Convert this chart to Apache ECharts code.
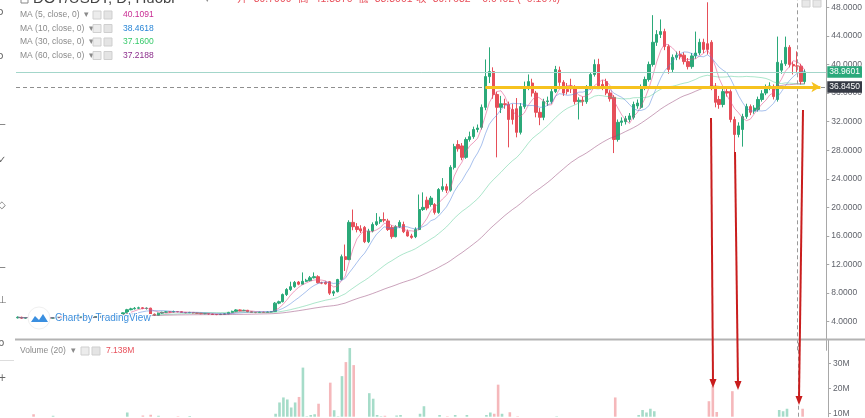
<!DOCTYPE html>
<html><head><meta charset="utf-8">
<script src="https://cdn.jsdelivr.net/npm/echarts@6/dist/echarts.min.js"></script>
<style>html,body{margin:0;padding:0;background:#fff}#c{width:865px;height:418px}</style>
</head><body><div id="c"></div>
<script>
// ---- data ----
const opens = [4.55,4.62,4.50,4.58,4.70,4.63,4.55,4.60,4.52,4.48,4.57,4.65,4.60,4.54,4.46,4.52,4.61,4.70,4.66,4.58,4.64,4.72,4.80,4.74,4.82,4.78,4.88,5.00,5.24,5.68,
5.80,5.88,5.95,5.85,5.90,5.05,4.92,5.20,5.32,5.38,5.35,5.42,5.40,5.30,5.26,5.30,5.22,5.18,5.12,5.15,5.08,5.02,5.00,5.05,5.10,5.30,5.45,5.65,5.55,5.60,
5.40,5.30,5.28,5.34,5.30,5.36,5.42,6.60,6.80,7.80,8.50,8.90,9.55,9.25,9.65,9.75,10.15,10.30,9.45,9.50,9.60,8.00,8.20,9.90,13.10,12.70,17.90,17.30,17.00,17.20,
15.20,16.70,17.60,18.00,18.30,18.10,17.20,15.90,17.30,17.60,16.60,16.00,15.90,16.90,19.70,21.00,20.40,20.40,19.30,22.50,22.90,22.40,25.60,28.80,28.60,27.00,29.50,29.90,30.90,31.20,
34.00,38.30,39.00,35.80,34.00,34.50,34.40,33.70,33.80,30.50,34.10,37.00,37.40,36.00,33.30,32.60,34.80,34.80,36.20,39.20,37.50,36.50,37.00,36.80,34.80,35.00,34.80,36.80,38.60,40.00,
37.20,37.60,36.00,35.40,29.50,31.90,32.00,32.30,32.60,34.20,34.00,36.80,37.90,40.00,43.10,44.20,44.60,42.50,39.30,41.00,41.40,41.30,40.40,39.70,41.20,41.60,43.10,42.90,43.10,36.90,
35.10,34.40,36.20,36.20,32.30,30.20,30.90,32.70,34.10,33.50,33.70,35.10,36.00,36.80,36.90,35.10,39.20,40.10,42.40,40.00,39.7999,39.76,37.60];
const closes = [4.62,4.50,4.58,4.70,4.63,4.55,4.60,4.52,4.48,4.57,4.65,4.60,4.54,4.46,4.52,4.61,4.70,4.66,4.58,4.64,4.72,4.80,4.74,4.82,4.78,4.88,5.00,5.24,5.68,5.80,
5.88,5.95,5.85,5.90,5.05,4.92,5.20,5.32,5.38,5.35,5.42,5.40,5.30,5.26,5.30,5.22,5.18,5.12,5.15,5.08,5.02,5.00,5.05,5.10,5.30,5.45,5.65,5.55,5.60,5.40,
5.30,5.28,5.34,5.30,5.36,5.42,6.60,6.80,7.80,8.50,8.90,9.50,9.25,9.65,9.80,10.15,10.30,9.45,9.40,9.30,8.00,8.20,9.90,13.10,12.70,17.90,17.30,16.90,16.70,15.20,
16.70,17.60,18.00,18.30,18.20,16.90,15.90,17.30,17.90,16.60,16.00,15.80,16.90,19.70,20.00,19.90,21.30,19.30,22.50,22.90,22.40,25.60,28.50,28.20,27.00,29.50,29.90,30.90,31.10,34.00,
38.30,39.00,35.80,34.00,34.50,34.40,32.30,32.30,30.50,34.10,36.90,37.60,36.00,33.30,32.60,34.80,34.90,36.20,39.30,37.50,36.00,36.20,36.60,34.80,35.00,34.80,36.80,38.60,40.00,37.00,
36.90,36.00,35.20,29.50,31.90,32.10,32.40,32.80,34.40,34.60,36.80,37.90,40.00,43.10,44.20,44.60,42.50,39.30,41.00,41.30,41.10,40.40,39.70,41.20,41.60,43.10,42.10,42.10,36.90,34.70,
34.40,36.20,36.00,32.30,30.20,31.40,32.70,34.10,33.30,33.90,35.10,35.90,36.80,37.00,35.50,40.30,40.10,42.40,40.00,39.80,39.7632,37.60,38.9601];
const lows = [4.45,4.40,4.42,4.50,4.55,4.48,4.47,4.45,4.38,4.42,4.50,4.54,4.47,4.38,4.40,4.47,4.55,4.58,4.52,4.52,4.58,4.66,4.68,4.70,4.70,4.72,4.82,4.95,5.18,5.60,
5.72,5.78,5.75,5.70,4.98,4.80,4.88,5.12,5.25,5.28,5.30,5.32,5.22,5.18,5.20,5.14,5.10,5.05,5.05,5.00,4.95,4.92,4.95,5.00,5.05,5.25,5.40,5.45,5.48,5.32,
5.22,5.20,5.22,5.24,5.26,5.30,5.38,6.45,6.70,7.60,8.30,8.75,9.10,9.20,9.55,9.65,10.05,9.35,9.25,9.20,7.75,7.60,8.10,9.80,11.10,12.60,16.80,16.50,16.40,15.00,
15.00,16.50,17.40,17.70,17.90,16.70,15.60,15.80,17.10,16.40,15.90,15.60,15.70,16.80,19.50,19.60,20.10,19.00,19.10,22.20,22.00,22.20,25.30,27.80,26.60,26.80,29.20,29.60,30.50,30.90,
33.60,37.40,35.20,27.00,33.20,33.80,28.40,31.60,29.80,30.20,33.80,36.40,35.50,32.60,31.50,32.20,34.20,34.50,36.00,37.00,35.60,35.80,36.00,34.40,32.30,34.20,34.50,36.50,38.30,36.80,
36.40,35.70,34.80,27.60,29.20,31.40,31.60,31.90,32.30,33.80,33.80,36.40,37.60,39.70,42.60,43.70,42.00,38.70,38.90,40.60,40.70,40.00,39.30,39.40,40.80,41.30,41.60,41.40,36.40,34.00,
33.80,34.00,35.50,31.90,27.10,29.80,28.50,32.40,32.90,33.10,33.40,34.80,35.70,36.40,35.10,34.80,38.70,39.80,39.60,38.60,38.8001,37.20,37.30];
const highs = [4.75,4.70,4.66,4.80,4.78,4.70,4.68,4.66,4.60,4.64,4.72,4.74,4.66,4.60,4.58,4.68,4.78,4.80,4.72,4.70,4.80,4.88,4.90,4.92,4.88,4.95,5.08,5.30,5.80,5.95,
6.05,6.10,6.05,6.00,5.95,5.15,5.28,5.40,5.48,5.46,5.55,5.50,5.46,5.36,5.38,5.36,5.28,5.24,5.22,5.20,5.12,5.08,5.12,5.18,5.38,5.55,5.75,5.72,5.68,5.65,
5.45,5.36,5.40,5.40,5.44,5.50,6.75,6.95,7.95,8.70,9.60,9.70,9.70,10.90,10.00,10.40,10.90,10.50,9.60,9.65,9.70,8.40,10.00,13.40,14.80,18.20,19.70,17.80,17.50,17.40,
17.00,17.90,19.20,18.70,19.30,18.40,17.50,17.50,18.20,18.00,16.90,16.30,17.20,21.80,22.10,21.50,21.60,20.60,22.70,24.10,23.30,25.90,28.90,29.40,29.00,29.80,30.60,31.30,31.60,34.40,
40.70,42.40,39.60,36.20,35.60,35.20,34.80,34.50,35.30,34.60,37.60,38.60,38.00,36.30,33.90,35.20,35.50,36.60,39.80,39.70,37.80,37.40,38.00,37.10,35.40,35.50,37.10,38.90,40.70,40.80,
37.80,38.00,36.40,35.70,32.30,32.60,32.80,33.20,34.80,35.10,37.20,38.30,40.40,46.90,44.80,46.30,45.00,42.80,41.40,41.80,41.90,41.70,40.90,41.60,44.60,43.60,43.60,48.70,43.40,37.40,
35.60,36.60,36.70,36.50,32.70,31.90,33.10,34.50,34.40,34.30,35.50,36.40,37.20,37.50,37.20,43.90,40.60,43.90,42.70,40.40,41.837,40.10,39.30];
const volumes = [4.2,3.8,3.5,5.1,9.8,4.0,3.6,3.2,4.4,9.2,3.8,3.1,2.9,3.4,3.0,3.3,4.1,3.6,3.2,3.0,3.7,4.3,3.5,3.9,3.4,4.6,5.8,7.5,10.5,6.2,
5.1,6.0,9.3,5.2,9.6,7.0,9.2,5.4,4.8,4.5,5.0,9.0,5.3,4.6,9.1,4.2,3.9,3.6,3.8,3.5,4.0,3.7,3.6,4.1,7.0,6.2,8.0,6.5,4.8,6.0,
5.2,4.1,3.9,3.6,4.0,4.8,10.0,14.5,16.5,15.7,12.5,14.5,16.7,28.4,9.0,9.5,9.8,14.0,7.0,6.5,22.4,11.4,9.0,25.0,30.6,36.2,29.4,8.8,8.0,8.5,
18.2,16.0,9.5,9.0,9.2,7.5,8.2,9.3,9.5,7.2,6.4,5.6,7.3,10.0,13.0,8.1,7.2,7.0,9.5,8.0,9.0,8.2,9.5,7.0,8.0,9.5,6.5,6.2,6.0,8.0,
9.5,10.5,10.0,21.6,10.0,7.0,10.6,8.0,9.0,8.0,7.0,6.5,6.2,7.6,6.8,6.0,5.5,6.2,9.0,7.0,6.0,5.2,5.0,6.5,6.0,4.8,5.0,5.6,6.5,7.5,
5.2,5.8,6.4,16.5,8.0,6.0,5.3,5.5,7.8,9.5,11.5,10.5,12.0,11.0,8.0,7.6,7.0,8.4,6.2,5.0,4.6,5.2,5.4,5.8,7.0,6.5,8.0,15.0,21.0,10.7,
8.0,7.2,6.0,19.0,8.5,7.5,8.0,6.5,5.5,5.0,6.0,5.5,5.8,5.2,6.4,11.5,11.0,12.0,8.0,7.0,7.138,12.0,6.0];
const priceTicks = [4,8,12,16,20,24,28,32,36,40,44,48];
const volumeTicks = [10,20,30];
const maPeriods = [5,10,30,60];
const maLegendValues = ['40.1091','38.4618','37.1600','37.2188'];
const lastPrice = 38.9601;
const crossPrice = 36.8450;
const crossIndex = 200;
const trendStartIndex = 120, trendEndIndex = 206;
const emptySlots = 5;

// categories: daily dates
const categories = [];
const t0 = Date.UTC(2020, 9, 13);
for (let i = 0; i < opens.length + emptySlots; i++) {
  categories.push(new Date(t0 + i * 864e5).toISOString().slice(0, 10));
}

const UP = '#2ba979', DOWN = '#e64f59';
const VUP = '#a6dcc9', VDOWN = '#f5b8bb';
const maLine = ['rgba(226,80,140,0.55)','rgba(80,130,220,0.5)','rgba(70,200,140,0.45)','rgba(150,70,120,0.5)'];
const maText = ['#c92c93','#2a86d6','#36c96a','#8c2e8c'];
const FONT = 'Liberation Sans, Noto Sans CJK SC, sans-serif';

function ma(p) {
  return closes.map((_, i) => {
    const s = Math.max(0, i - p + 1);
    let sum = 0;
    for (let j = s; j <= i; j++) sum += closes[j];
    return +(sum / (i - s + 1)).toFixed(4);
  });
}

const candleData = opens.map((o, i) => [o, closes[i], lows[i], highs[i]]);
const volData = volumes.map((v, i) => ({ value: v, itemStyle: { color: closes[i] >= opens[i] ? VUP : VDOWN } }));

const chart = echarts.init(document.getElementById('c'), null, { renderer: 'canvas' });

const graphics = [];
// pane separator
graphics.push({ type: 'line', z: 50, shape: { x1: 15, y1: 339.5, x2: 865, y2: 339.5 }, style: { stroke: '#b3b3b3', lineWidth: 2 } });
// header (cut at top)
graphics.push({ type: 'rect', z: 60, shape: { x: 21, y: -5, width: 7, height: 8 }, style: { fill: 'none', stroke: '#888', lineWidth: 1 } });
graphics.push({ type: 'text', z: 60, x: 33, y: -1.5, style: { text: 'DOT/USDT, D, Huobi', font: '15px ' + FONT, fill: '#444', verticalAlign: 'middle' } });
graphics.push({ type: 'text', z: 60, x: 205, y: 0, style: { text: '▾', font: '9px ' + FONT, fill: '#888', verticalAlign: 'middle' } });
[['开=39.7999', 237], ['高=41.8370', 298], ['低=38.8001', 358], ['收=39.7632', 416], ['−0.0402 (−0.10%)', 476]].forEach(([t, x]) => {
  graphics.push({ type: 'text', z: 60, x, y: -1, style: { text: t, font: '10.5px ' + FONT, fill: '#e8505b', verticalAlign: 'middle' } });
});
// MA legends
maPeriods.forEach((p, k) => {
  const y = 15 + k * 13.5;
  graphics.push({ type: 'text', z: 60, x: 20, y, style: { text: 'MA (' + p + ', close, 0)  ▾', font: '8.5px ' + FONT, fill: '#8a8a8a', verticalAlign: 'middle' } });
  graphics.push({ type: 'rect', z: 60, shape: { x: 93, y: y - 4, width: 8, height: 8 }, style: { fill: '#ececec', stroke: '#d0d0d0', lineWidth: 1 } });
  graphics.push({ type: 'rect', z: 60, shape: { x: 104, y: y - 4, width: 8, height: 8 }, style: { fill: '#e4e4e4', stroke: '#cfcfcf', lineWidth: 1 } });
  graphics.push({ type: 'text', z: 60, x: 123, y, style: { text: maLegendValues[k], font: '8.5px ' + FONT, fill: maText[k], verticalAlign: 'middle' } });
});
// volume legend
graphics.push({ type: 'text', z: 60, x: 20, y: 351, style: { text: 'Volume (20)  ▾', font: '8.5px ' + FONT, fill: '#8a8a8a', verticalAlign: 'middle' } });
graphics.push({ type: 'rect', z: 60, shape: { x: 81, y: 347, width: 8, height: 8 }, style: { fill: '#ececec', stroke: '#d0d0d0', lineWidth: 1 } });
graphics.push({ type: 'rect', z: 60, shape: { x: 92, y: 347, width: 8, height: 8 }, style: { fill: '#e4e4e4', stroke: '#cfcfcf', lineWidth: 1 } });
graphics.push({ type: 'text', z: 60, x: 106, y: 351, style: { text: '7.138M', font: '8.5px ' + FONT, fill: '#e8505b', verticalAlign: 'middle' } });
// pane icons top right
graphics.push({ type: 'rect', z: 60, shape: { x: 802, y: 0, width: 8, height: 7 }, style: { fill: '#e8e8e8', stroke: '#d0d0d0', lineWidth: 1 } });
graphics.push({ type: 'rect', z: 60, shape: { x: 813, y: 0, width: 8, height: 7 }, style: { fill: '#e8e8e8', stroke: '#d0d0d0', lineWidth: 1 } });
// watermark
graphics.push({ type: 'circle', z: 70, shape: { cx: 39, cy: 318, r: 11 }, style: { fill: '#fff', stroke: '#f0f0f0' } });
graphics.push({ type: 'polygon', z: 71, shape: { points: [[31, 322], [35, 316], [39, 320], [43, 314], [48, 322]] }, style: { fill: '#3a8fe0' } });
graphics.push({ type: 'text', z: 70, x: 55, y: 318, style: { text: 'Chart by TradingView', font: '10px ' + FONT, fill: '#3d8fdc', verticalAlign: 'middle', stroke: '#fff', lineWidth: 2 } });
// left toolbar glyphs (cut at edge)
[['ɔ', 12], ['ɔ', 56], ['⌐', 125], ['✓', 160], ['◇', 205], ['⌐', 268], ['⊥', 300], ['ɒ', 343], ['+', 378]].forEach(([t, y]) => {
  graphics.push({ type: 'text', z: 60, x: -2, y, style: { text: t, font: '10px DejaVu Sans', fill: '#666', verticalAlign: 'middle' } });
});
graphics.push({ type: 'line', z: 60, shape: { x1: 0, y1: 360.5, x2: 14, y2: 360.5 }, style: { stroke: '#ddd', lineWidth: 1 } });
// hand-drawn red arrows
[[711, 118, 713, 388], [735, 152, 738, 390], [803, 110, 799, 405]].forEach(([x1, y1, x2, y2]) => {
  graphics.push({ type: 'line', z: 80, shape: { x1, y1, x2, y2: y2 - 6 }, style: { stroke: '#c91d1d', lineWidth: 2 } });
  graphics.push({ type: 'polygon', z: 80, shape: { points: [[x2 - 3.5, y2 - 9], [x2 + 3.5, y2 - 9], [x2, y2]] }, style: { fill: '#c91d1d' } });
});

const labelBox = (bg) => ({ show: true, position: 'end', distance: 1, color: '#fff', backgroundColor: bg, padding: [2, 2, 1, 2], fontSize: 8.5, fontFamily: FONT });

const option = {
  animation: false,
  backgroundColor: '#fff',
  grid: [
    { left: 16, top: 0, width: 812, height: 350.3 },
    { left: 16, top: 340, width: 812, height: 78 }
  ],
  xAxis: [
    { type: 'category', gridIndex: 0, data: categories, boundaryGap: true, show: false },
    { type: 'category', gridIndex: 1, data: categories, boundaryGap: true, show: false }
  ],
  yAxis: [
    { type: 'value', gridIndex: 0, position: 'right', min: 0, max: 49.02, interval: 4,
      axisLine: { show: true, lineStyle: { color: '#a8a8a8' } },
      axisTick: { show: true, length: 3, lineStyle: { color: '#a8a8a8' }, customValues: priceTicks },
      axisLabel: { margin: 5, fontSize: 8.5, color: '#60636b', fontFamily: FONT, customValues: priceTicks,
        formatter: v => (v > 0 && Math.abs(v % 4) < 1e-9) ? v.toFixed(4) : '' },
      splitLine: { show: false } },
    // volume pane: the zero line lies below the visible window (cut off at the bottom)
    { type: 'value', gridIndex: 1, position: 'right', min: 8.82, max: 39.41,
      axisLine: { show: true, lineStyle: { color: '#a8a8a8' } },
      axisTick: { show: true, length: 3, lineStyle: { color: '#a8a8a8' }, customValues: volumeTicks },
      axisLabel: { margin: 5, fontSize: 8.5, color: '#60636b', fontFamily: FONT, customValues: volumeTicks,
        formatter: v => (Math.abs(v % 10) < 1e-9 && v > 0) ? v + 'M' : '' },
      splitLine: { show: false } }
  ],
  series: [
    { type: 'candlestick', xAxisIndex: 0, yAxisIndex: 0, data: candleData, barWidth: 2.8,
      itemStyle: { color: UP, color0: DOWN, borderColor: UP, borderColor0: DOWN, borderWidth: 1 },
      markLine: { silent: true, animation: false, symbol: ['none', 'none'], symbolSize: [8, 9],
        data: [
          { yAxis: lastPrice, lineStyle: { color: '#a3d6ca', type: 'solid', width: 1 }, label: Object.assign(labelBox('#2aa97b'), { formatter: lastPrice.toFixed(4) }) },
          { yAxis: crossPrice, lineStyle: { color: '#8f8f8f', type: [4, 3], width: 1 }, label: Object.assign(labelBox('#363a45'), { formatter: crossPrice.toFixed(4) }) },
          { xAxis: categories[crossIndex], lineStyle: { color: '#9a9a9a', type: [4, 3], width: 1 }, label: { show: false } },
          [ { coord: [categories[trendStartIndex], crossPrice], symbol: 'none' },
            { coord: [categories[trendEndIndex], crossPrice], symbol: 'arrow', lineStyle: { color: '#f6c21f', width: 3, type: 'solid' }, label: { show: false } } ]
        ] } },
    ...maPeriods.map((p, k) => ({ type: 'line', xAxisIndex: 0, yAxisIndex: 0, data: ma(p), showSymbol: false, symbol: 'none', silent: true,
      lineStyle: { color: maLine[k], width: 1 }, z: 3 })),
    { type: 'bar', xAxisIndex: 1, yAxisIndex: 1, data: volData, barWidth: 2.6, clip: true,
      markLine: { silent: true, animation: false, symbol: ['none', 'none'],
        data: [ { xAxis: categories[crossIndex], lineStyle: { color: '#9a9a9a', type: [4, 3], width: 1 }, label: { show: false } } ] } }
  ],
  graphic: graphics
};
chart.setOption(option);
</script></body></html>
